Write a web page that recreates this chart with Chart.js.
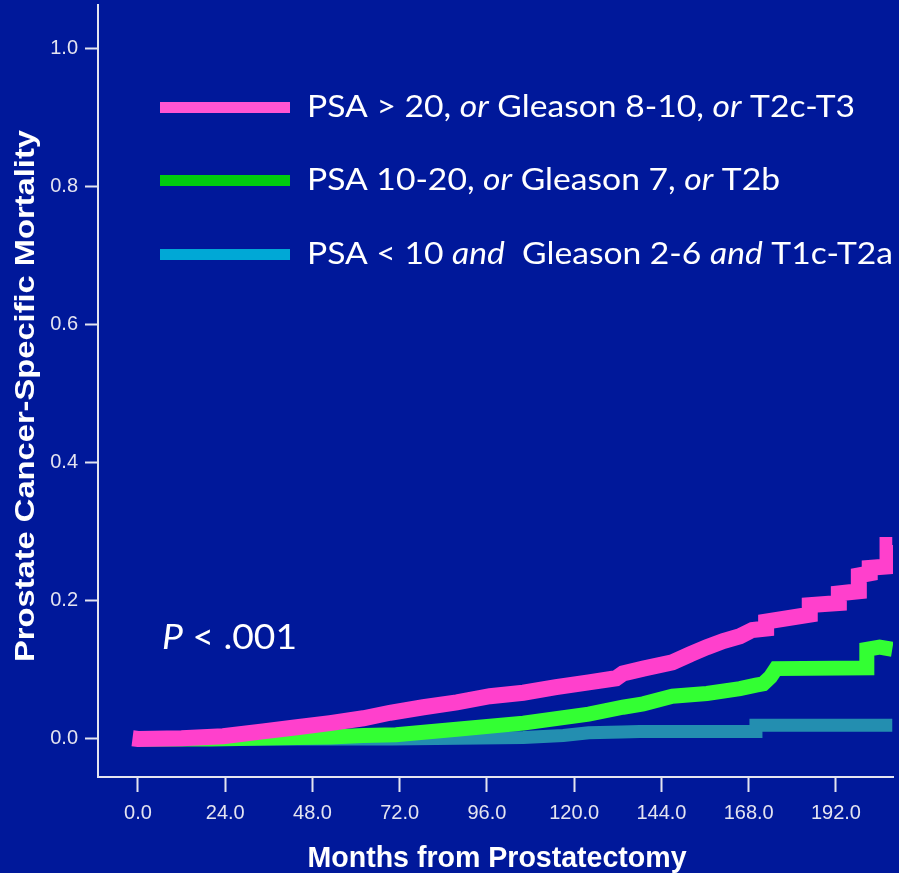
<!DOCTYPE html>
<html>
<head>
<meta charset="utf-8">
<script src="https://cdn.jsdelivr.net/npm/chart.js@4"></script>
<style>
html,body{margin:0;padding:0;background:#00189a;}
#wrap{position:relative;width:899px;height:873px;}
</style>
</head>
<body>
<div id="wrap"><canvas id="c" width="899" height="873"></canvas></div>
<script>
// ---- data ----
const xTicks = [0, 24, 48, 72, 96, 120, 144, 168, 192];
const yTicks = [0, 0.2, 0.4, 0.6, 0.8, 1.0];

const highMonths = [-1.5, 0, 12, 23.4, 34.4, 43.7, 52.8, 62, 69.3, 78.5, 87.7, 96.8, 106, 115, 124, 131.5, 133.4, 139, 147, 152, 156.5, 161, 165.6, 169, 172.8, 172.8, 184.8, 184.8, 192.8, 192.8, 198.3, 198.3, 201.3, 201.3, 206.2, 206.2, 207.5];
const highValues = [0.001, 0, 0.001, 0.004, 0.011, 0.017, 0.023, 0.030, 0.038, 0.046, 0.053, 0.062, 0.067, 0.075, 0.082, 0.088, 0.095, 0.102, 0.111, 0.123, 0.133, 0.142, 0.149, 0.158, 0.160, 0.170, 0.180, 0.194, 0.197, 0.211, 0.214, 0.237, 0.240, 0.248, 0.250, 0.281, 0.281];

const midMonths = [0, 20, 44, 53, 62, 71, 87.7, 106, 117, 124, 133.4, 139, 147, 156.5, 165.6, 170, 172, 174, 175.5, 200.5, 200.5, 204, 207.5];
const midValues = [0, 0, 0.002, 0.003, 0.005, 0.006, 0.014, 0.023, 0.031, 0.036, 0.046, 0.051, 0.062, 0.066, 0.073, 0.078, 0.080, 0.090, 0.102, 0.103, 0.130, 0.133, 0.130];

const lowMonths = [0, 70, 88, 106, 117, 124, 133, 138, 170, 170, 207.5];
const lowValues = [0, 0, 0.001, 0.002, 0.005, 0.009, 0.010, 0.011, 0.011, 0.020, 0.020];

const legendLabels = [
  [["PSA > 20, ", false], ["or", true], [" Gleason 8-10, ", false], ["or", true], [" T2c-T3", false]],
  [["PSA 10-20, ", false], ["or", true], [" Gleason 7, ", false], ["or", true], [" T2b", false]],
  [["PSA < 10 ", false], ["and", true], ["  Gleason 2-6 ", false], ["and", true], [" T1c-T2a", false]]
];
const legendColors = ["#ff55d2", "#00cc10", "#00a8d6"];
const xTitle = "Months from Prostatectomy";
const yTitle = "Prostate Cancer-Specific Mortality";

function pts(xs, ys){ return xs.map((x,i)=>({x:x, y:ys[i]})); }

// ---- custom drawing of titles, legend and annotation ----
function fitText(ctx, text, x, y, targetW, font, align){
  ctx.save();
  ctx.font = font;
  const w = ctx.measureText(text).width;
  const s = targetW / w;
  ctx.translate(x, y);
  ctx.scale(s, 1);
  ctx.textAlign = align || 'center';
  ctx.fillText(text, 0, 0);
  ctx.restore();
}

function mixed(ctx, parts, x, y, targetW, size){
  let total = 0;
  parts.forEach(p => { ctx.font = (p[1] ? 'italic ' : '') + size + 'px Lato, "Open Sans", sans-serif'; total += ctx.measureText(p[0]).width; });
  const s = targetW / total;
  ctx.save();
  ctx.translate(x, y);
  ctx.scale(s, 1);
  ctx.textAlign = 'left';
  let cx = 0;
  parts.forEach(p => {
    ctx.font = (p[1] ? 'italic ' : '') + size + 'px Lato, "Open Sans", sans-serif';
    ctx.fillText(p[0], cx, 0);
    cx += ctx.measureText(p[0]).width;
  });
  ctx.restore();
}

const decor = {
  id: 'decor',
  afterDraw(chart){
    const ctx = chart.ctx;
    ctx.save();
    ctx.fillStyle = '#ffffff';
    ctx.textBaseline = 'alphabetic';
    // x title
    fitText(ctx, xTitle, 497, 867, 379, 'bold 29px "Liberation Sans", Arial, sans-serif', 'center');
    // y title (rotated)
    ctx.save();
    ctx.translate(34, 396);
    ctx.rotate(-Math.PI/2);
    fitText(ctx, yTitle, 0, 0, 532, 'bold 28px "Liberation Sans", Arial, sans-serif', 'center');
    ctx.restore();

    // legend
    const rowsY = [107, 180, 254];
    const targetW = [548, 473, 586];
    legendLabels.forEach((parts, i) => {
      ctx.fillStyle = legendColors[i];
      ctx.fillRect(160, rowsY[i]-5, 130, 11);
      ctx.fillStyle = '#ffffff';
      mixed(ctx, parts, 307, rowsY[i] + 10, targetW[i], 30);
    });

    // P annotation
    ctx.fillStyle = '#ffffff';
    mixed(ctx, [["P", true], [" < .001", false]], 162, 649, 135, 35);
    ctx.restore();
  }
};

const tickColor = '#e4e4f0';
const tickFont = { family: '"Liberation Sans", Arial, sans-serif', size: 20 };
new Chart(document.getElementById('c'), {
  type: 'line',
  data: {
    datasets: [
      { label: 'high', data: pts(highMonths, highValues), borderColor: '#ff40cc', borderWidth: 16, pointRadius: 0, order: 0, borderCapStyle: 'butt', borderJoinStyle: 'miter', tension: 0 },
      { label: 'mid', data: pts(midMonths, midValues), borderColor: '#33ff33', borderWidth: 15, pointRadius: 0, order: 1, borderCapStyle: 'butt', borderJoinStyle: 'miter', tension: 0 },
      { label: 'low', data: pts(lowMonths, lowValues), borderColor: '#238eb0', borderWidth: 13, pointRadius: 0, order: 2, borderCapStyle: 'butt', borderJoinStyle: 'miter', tension: 0 }
    ]
  },
  options: {
    responsive: false,
    animation: false,
    events: [],
    layout: { padding: { top: 5, right: 6, left: 0, bottom: 0 } },
    plugins: { legend: { display: false }, tooltip: { enabled: false } },
    scales: {
      x: {
        type: 'linear',
        min: -11,
        max: 207.7,
        afterFit: s => { s.height = 96; s.paddingLeft = 0; s.paddingRight = 0; },
        afterBuildTicks: s => { s.ticks = xTicks.map(v => ({ value: v })); },
        ticks: {
          color: tickColor,
          font: tickFont,
          padding: 9,
          maxRotation: 0,
          autoSkip: false,
          callback: v => Number(v).toFixed(1)
        },
        grid: { drawOnChartArea: false, drawTicks: true, tickLength: 15, color: tickColor, tickWidth: 2 },
        border: { display: true, color: tickColor, width: 2 }
      },
      y: {
        type: 'linear',
        min: -0.0551,
        max: 1.0637,
        afterFit: s => { s.width = 98; s.paddingTop = 0; s.paddingBottom = 0; },
        afterBuildTicks: s => { s.ticks = yTicks.map(v => ({ value: v })); },
        ticks: {
          color: tickColor,
          font: tickFont,
          padding: 7,
          autoSkip: false,
          callback: v => Number(v).toFixed(1)
        },
        grid: { drawOnChartArea: false, drawTicks: true, tickLength: 13, color: tickColor, tickWidth: 2 },
        border: { display: true, color: tickColor, width: 2 }
      }
    }
  },
  plugins: [decor]
});
</script>
</body>
</html>
